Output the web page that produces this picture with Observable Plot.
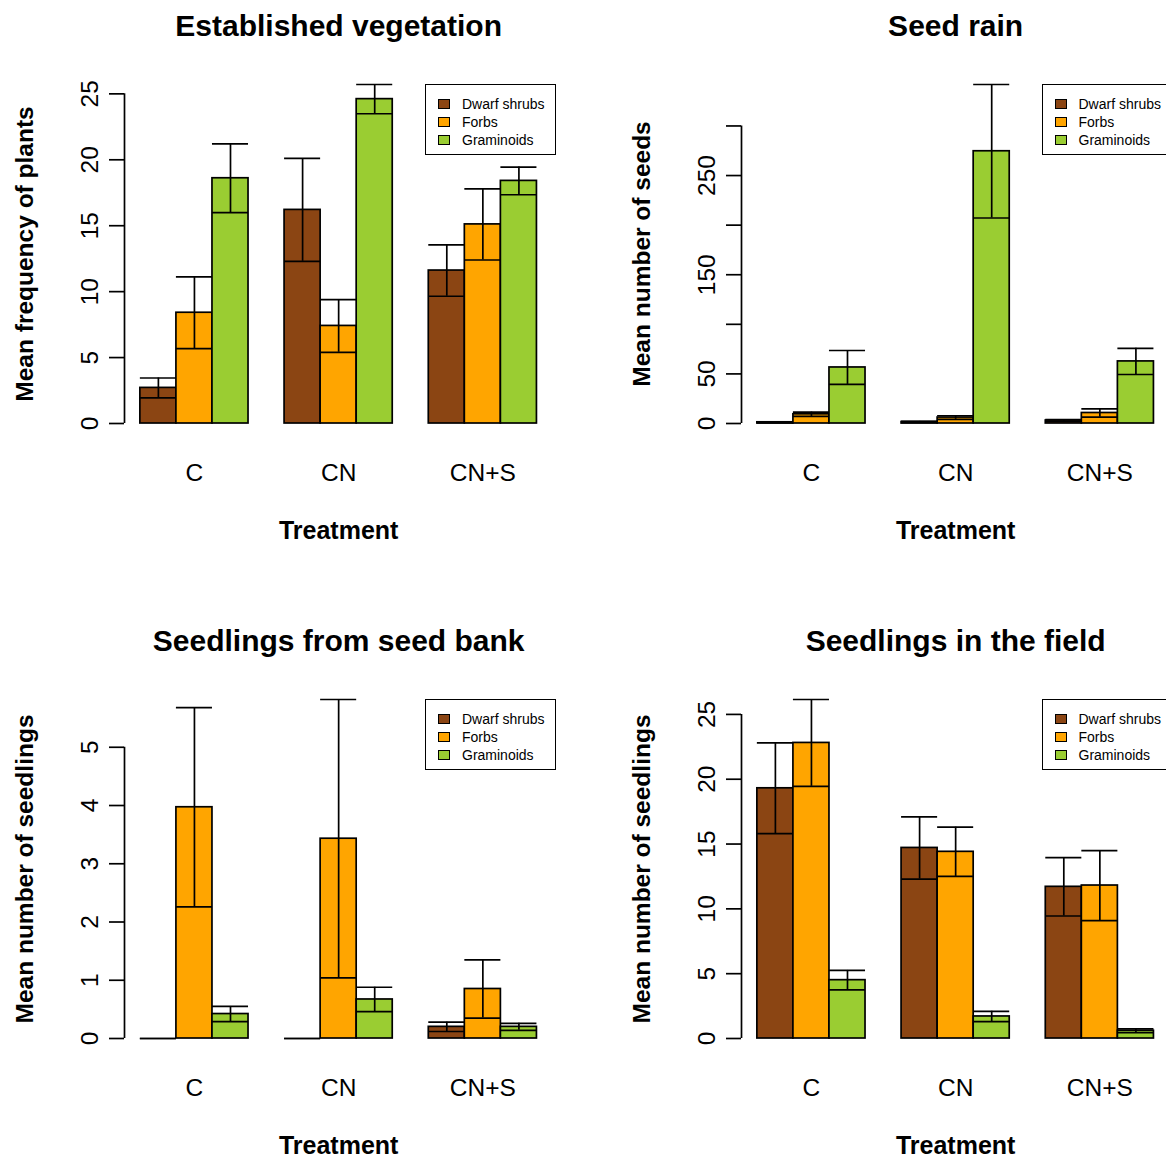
<!DOCTYPE html>
<html><head><meta charset="utf-8">
<script src="https://cdn.jsdelivr.net/npm/d3@7"></script>
<script src="https://cdn.jsdelivr.net/npm/@observablehq/plot@0.6"></script>
<style>
body{margin:0;background:#fff;font-family:"Liberation Sans",Arial,sans-serif;}
#fig{position:relative;width:1166px;height:1158px;overflow:hidden;background:#fff;}
.panel{position:absolute;width:617px;height:616px;}
.panel svg{overflow:visible;}
.legend{position:absolute;left:425px;top:84px;width:129px;height:69px;border:1.5px solid #000;background:#fff;}
.legend .item{position:absolute;left:12px;height:18px;display:flex;align-items:center;font-size:14px;color:#000;white-space:nowrap;}
.legend .sw{width:10px;height:8px;border:1.5px solid #000;margin-right:12px;}
</style></head><body><div id="fig"></div>
<script>
const treatments = ["C", "CN", "CN+S"];
const groups = ["Dwarf shrubs", "Forbs", "Graminoids"];
const groupColors = ["#8B4513", "#FFA500", "#9ACD32"];

// Established vegetation (rows: treatments, cols: groups)
const vegMean = [[2.7, 8.4, 18.6], [16.2, 7.4, 24.6], [11.6, 15.1, 18.4]];
const vegSE   = [[0.75, 2.72, 2.6], [3.9, 2.0, 1.11], [1.95, 2.7, 1.05]];
const vegTicks = [0, 5, 10, 15, 20, 25];
const vegTickLabels = ["0", "5", "10", "15", "20", "25"];

// Seed rain
const rainMean = [[1.2, 9.3, 56.5], [1.5, 6.0, 274.5], [3.0, 10.6, 62.6]];
const rainSE   = [[0.5, 2.2, 17.1], [0.6, 1.8, 67.3], [1.0, 4.2, 13.2]];
const rainTicks = [0, 50, 100, 150, 200, 250, 300];
const rainTickLabels = ["0", "50", "", "150", "", "250", ""];

// Seedlings from seed bank
const bankMean = [[0, 3.97, 0.42], [0, 3.43, 0.67], [0.2, 0.85, 0.2]];
const bankSE   = [[0, 1.71, 0.13], [0, 2.39, 0.21], [0.08, 0.5, 0.06]];
const bankTicks = [0, 1, 2, 3, 4, 5];
const bankTickLabels = ["0", "1", "2", "3", "4", "5"];

// Seedlings in the field
const fieldMean = [[19.3, 22.8, 4.5], [14.7, 14.4, 1.7], [11.7, 11.8, 0.6]];
const fieldSE   = [[3.5, 3.35, 0.75], [2.4, 1.9, 0.4], [2.25, 2.7, 0.15]];
const fieldTicks = [0, 5, 10, 15, 20, 25];
const fieldTickLabels = ["0", "5", "10", "15", "20", "25"];

const FONT = '"Liberation Sans", Arial, Helvetica, sans-serif';
const panels = [
  {title: "Established vegetation", ylab: "Mean frequency of plants", mean: vegMean, se: vegSE, ticks: vegTicks, labels: vegTickLabels, left: 0, top: 0},
  {title: "Seed rain", ylab: "Mean number of seeds", mean: rainMean, se: rainSE, ticks: rainTicks, labels: rainTickLabels, left: 616.5, top: 0},
  {title: "Seedlings from seed bank", ylab: "Mean number of seedlings", mean: bankMean, se: bankSE, ticks: bankTicks, labels: bankTickLabels, left: 0, top: 615},
  {title: "Seedlings in the field", ylab: "Mean number of seedlings", mean: fieldMean, se: fieldSE, ticks: fieldTicks, labels: fieldTickLabels, left: 616.5, top: 615}
];

const fig = document.getElementById("fig");
const XDOM = [0.56, 12.44];

for (const p of panels) {
  const rows = [];
  treatments.forEach((t, ti) => {
    groups.forEach((g, gi) => {
      const x1 = 1 + ti * 4 + gi;
      const m = p.mean[ti][gi], s = p.se[ti][gi];
      rows.push({treatment: t, group: g, x1, x2: x1 + 1, mean: m, lo: m - s, hi: m + s});
    });
  });
  const ymax = d3.max(rows, d => d.hi);
  const centers = treatments.map((t, ti) => ({t, x: 1 + ti * 4 + 1.5}));
  const lab = new Map(p.ticks.map((v, i) => [v, p.labels[i]]));
  const lw = 1.7;

  const chart = Plot.plot({
    width: 617, height: 616,
    marginLeft: 124, marginRight: 64.7, marginTop: 84, marginBottom: 193,
    x: {domain: XDOM, axis: null},
    y: {domain: [0, ymax]},
    color: {domain: groups, range: groupColors},
    style: {fontFamily: FONT, background: "transparent", color: "#000"},
    marks: [
      Plot.rect(rows, {x1: "x1", x2: "x2", y1: 0, y2: "mean", fill: "group", stroke: "#000", strokeWidth: lw}),
      Plot.ruleX(rows, {x: d => (d.x1 + d.x2) / 2, y1: "lo", y2: "hi", stroke: "#000", strokeWidth: lw}),
      Plot.ruleY(rows, {y: "lo", x1: "x1", x2: "x2", stroke: "#000", strokeWidth: lw}),
      Plot.ruleY(rows, {y: "hi", x1: "x1", x2: "x2", stroke: "#000", strokeWidth: lw}),
      Plot.ruleX([p.ticks], {x: XDOM[0], y1: d => d[0], y2: d => d[d.length - 1], stroke: "#000", strokeWidth: lw}),
      Plot.axisY(p.ticks, {tickSize: 15, tickPadding: 12, tickRotate: -90, tickFormat: d => lab.get(d), fontSize: 24.5, strokeWidth: lw, label: null}),
      Plot.text(centers, {x: "x", text: "t", frameAnchor: "bottom", lineAnchor: "top", dy: 40, fontSize: 24.5}),
      Plot.text(["Treatment"], {text: d => d, frameAnchor: "bottom", textAnchor: "middle", lineAnchor: "top", dy: 98, fontSize: 25, fontWeight: "bold"}),
      Plot.text([p.ylab], {text: d => d, frameAnchor: "left", textAnchor: "middle", rotate: -90, lineAnchor: "bottom", dx: -92, fontSize: 24.5, fontWeight: "bold"}),
      Plot.text([p.title], {text: d => d, frameAnchor: "top", textAnchor: "middle", lineAnchor: "bottom", dy: -49, fontSize: 30, fontWeight: "bold"})
    ]
  });

  const wrap = document.createElement("div");
  wrap.className = "panel";
  wrap.style.left = p.left + "px";
  wrap.style.top = p.top + "px";
  wrap.appendChild(chart);

  const leg = document.createElement("div");
  leg.className = "legend";
  groups.forEach((g, gi) => {
    const it = document.createElement("div");
    it.className = "item";
    it.style.top = (10 + gi * 18) + "px";
    const sw = document.createElement("span");
    sw.className = "sw";
    sw.style.background = groupColors[gi];
    const tx = document.createElement("span");
    tx.textContent = g;
    it.appendChild(sw);
    it.appendChild(tx);
    leg.appendChild(it);
  });
  wrap.appendChild(leg);
  fig.appendChild(wrap);
}
</script>
</body></html>
